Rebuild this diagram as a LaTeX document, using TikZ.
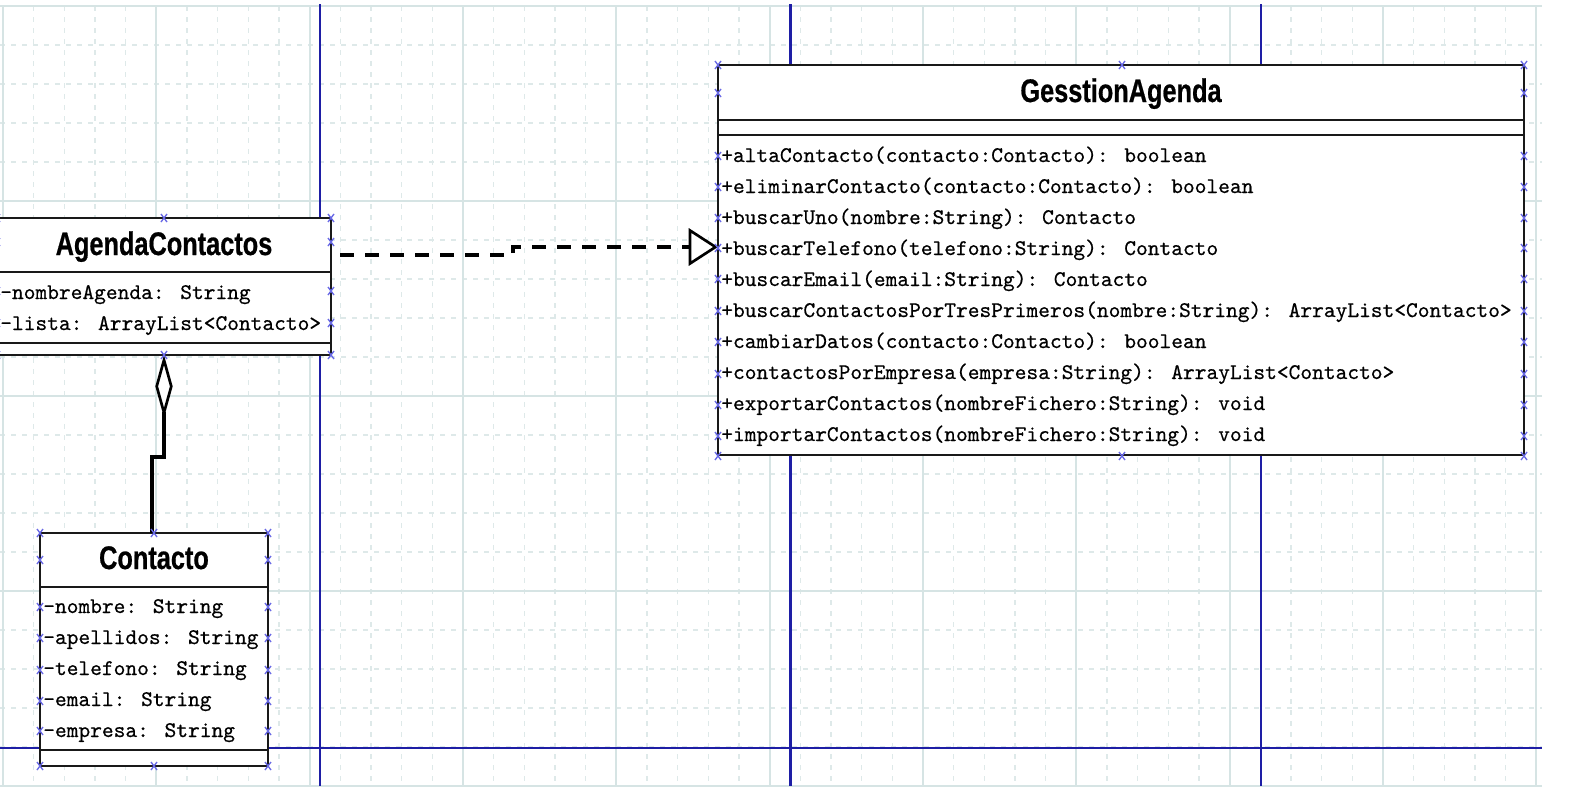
\documentclass[tikz,border=0pt]{standalone}
\usepackage{fontspec}
\newfontfamily\titlefont[UprightFont={* Bold},FakeStretch=0.775,FakeBold=0.6]{Liberation Sans}
\newfontfamily\memfont[FakeBold=0.5]{lmmono10-regular.otf}
\usetikzlibrary{arrows.meta}
\definecolor{gridc}{RGB}{214,228,228}
\definecolor{gridm}{RGB}{222,233,233}
\definecolor{pageblue}{RGB}{30,30,165}
\definecolor{hmarkc}{RGB}{105,105,230}
\definecolor{boxc}{RGB}{25,25,25}
\begin{document}
\begin{tikzpicture}[x=0.75pt,y=-0.75pt,
  gridminor/.style={draw=gridm,line width=1pt,dash pattern=on 3.75pt off 4.5pt},
  gridmajor/.style={draw=gridc,line width=1.5pt},
  pageline/.style={draw=pageblue,line width=1.6pt},
  classbox/.style={draw=boxc,fill=white,line width=1.6pt,inner sep=0pt,outer sep=0pt},
  divider/.style={draw=boxc,line width=1.6pt},
  classtitle/.style={font=\titlefont\fontsize{24.5pt}{28pt}\selectfont,anchor=base,inner sep=0pt},
  member/.style={font=\memfont\fontsize{16.77pt}{20pt}\selectfont,anchor=base west,inner sep=0pt},
  hmk/.style={draw=hmarkc,line width=1pt},
  xm/.pic={\draw[hmk] (-3,-4) -- (3,4) (-3,4) -- (3,-4);},
  realiz/.style={draw=black,line width=2.6pt,dash pattern=on 10.5pt off 8.25pt,dash phase=12pt,
    -{Triangle[length=22pt,width=28pt,fill=white,line width=2pt]}},
  aggr/.style={draw=black,line width=2.5pt,
    -{Diamond[length=47pt,width=13pt,fill=white,line width=2pt]}}
]
\useasboundingbox (0,0) rectangle (1595,803);
\fill[white] (0,0) rectangle (1595,803);
% grid
\foreach \k in {0,...,50} \draw[gridminor] ({3+30.6667*\k},6) -- ({3+30.6667*\k},786);
\foreach \k in {0,...,20} \draw[gridminor] (0,{6+39*\k}) -- (1542,{6+39*\k});
\foreach \k in {0,...,10} \draw[gridmajor] ({3+153.333*\k},6) -- ({3+153.333*\k},786);
\foreach \k in {0,...,4} \draw[gridmajor] (0,{6+195*\k}) -- (1542,{6+195*\k});
% page boundaries
\foreach \xx in {320,790.5,1261} \draw[pageline] (\xx,4) -- (\xx,786);
\draw[pageline] (0,748) -- (1542,748);

% AgendaContactos
\node[classbox,minimum width=250.5pt,minimum height=102.75pt] (agenda) at (164,286.5) {};
\draw[divider] (agenda.west |- 0,272) -- (agenda.east |- 0,272);
\draw[divider] (agenda.west |- 0,343) -- (agenda.east |- 0,343);
\node[classtitle] (agendaT) at (164,255) {AgendaContactos};
\node[member] (a1) at (0,299) {-nombreAgenda: String};
\node[member] (a2) at (0,330) {-lista: ArrayList<Contacto>};

% Contacto
\node[classbox,minimum width=171pt,minimum height=174.75pt] (contacto) at (154,649.5) {};
\draw[divider] (contacto.west |- 0,587) -- (contacto.east |- 0,587);
\draw[divider] (contacto.west |- 0,750) -- (contacto.east |- 0,750);
\node[classtitle] (contactoT) at (154,569) {Contacto};
\node[member] (c1) at (43,613) {-nombre: String};
\node[member] (c2) at (43,644) {-apellidos: String};
\node[member] (c3) at (43,675) {-telefono: String};
\node[member] (c4) at (43,706) {-email: String};
\node[member] (c5) at (43,737) {-empresa: String};

% GesstionAgenda
\node[classbox,minimum width=604.5pt,minimum height=292.5pt] (gestion) at (1121,260) {};
\draw[divider] (gestion.west |- 0,120) -- (gestion.east |- 0,120);
\draw[divider] (gestion.west |- 0,135) -- (gestion.east |- 0,135);
\node[classtitle] (gestionT) at (1121,102) {GesstionAgenda};
\node[member] (m1) at (721,162) {+altaContacto(contacto:Contacto): boolean};
\node[member] (m2) at (721,193) {+eliminarContacto(contacto:Contacto): boolean};
\node[member] (m3) at (721,224) {+buscarUno(nombre:String): Contacto};
\node[member] (m4) at (721,255) {+buscarTelefono(telefono:String): Contacto};
\node[member] (m5) at (721,286) {+buscarEmail(email:String): Contacto};
\node[member] (m6) at (721,317) {+buscarContactosPorTresPrimeros(nombre:String): ArrayList<Contacto>};
\node[member] (m7) at (721,348) {+cambiarDatos(contacto:Contacto): boolean};
\node[member] (m8) at (721,379) {+contactosPorEmpresa(empresa:String): ArrayList<Contacto>};
\node[member] (m9) at (721,410) {+exportarContactos(nombreFichero:String): void};
\node[member] (m10) at (721,441) {+importarContactos(nombreFichero:String): void};

% connectors
\draw[realiz] (agenda.east |- 0,255) -- (513,255) -- (513,247) -- (gestion.west |- 0,247);
\draw[aggr] ([xshift=-1.5pt]contacto.north) -- ++(0,-76) -- (agenda.south |- 0,457) -- (agenda.south);

% handle marks
\foreach \p in {(-3,218),(164,218),(331,218),(-3,242),(331,242),(-3,291),(331,291),(-3,323),(331,323),(-3,355),(164,355),(331,355)} \pic at \p {xm};
\foreach \p in {(40,533),(154,533),(268,533),(40,560),(268,560),(40,766),(154,766),(268,766)} \pic at \p {xm};
\foreach \yy in {607,638,670,701,731} {\pic at (40,\yy) {xm}; \pic at (268,\yy) {xm};}
\foreach \p in {(718,65),(1122,65),(1524,65),(718,93),(1524,93),(718,456),(1122,456),(1524,456)} \pic at \p {xm};
\foreach \yy in {156,187,218,248,279,311,342,374,405,436} {\pic at (718,\yy) {xm}; \pic at (1524,\yy) {xm};}
\end{tikzpicture}
\end{document}
